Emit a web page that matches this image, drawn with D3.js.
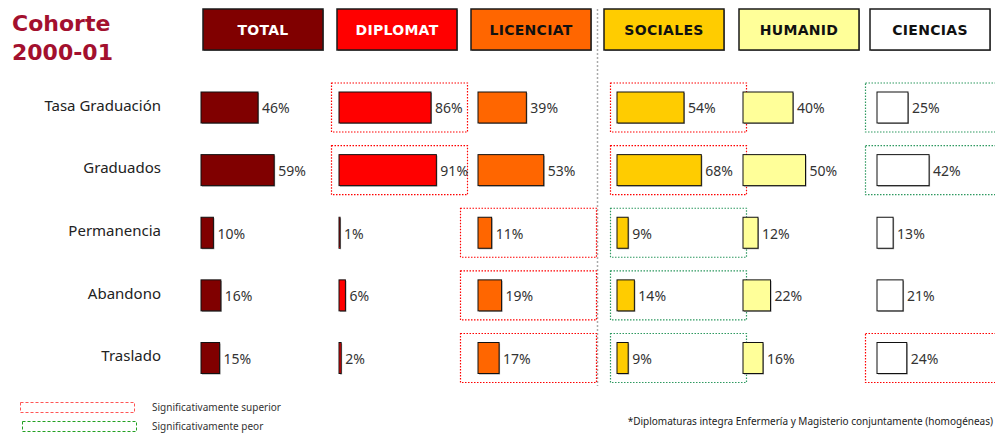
<!DOCTYPE html>
<html>
<head>
<meta charset="utf-8">
<script src="https://cdn.jsdelivr.net/npm/d3@7"></script>
<style>
  body { margin: 0; background: #fff; }
  text { font-family: "DejaVu Sans", Verdana, sans-serif; }
  .lbl { font-family: "Noto Sans", "DejaVu Sans", sans-serif; }
</style>
</head>
<body>
<div id="chart"></div>
<script>
// data
var categories = ["TOTAL", "DIPLOMAT", "LICENCIAT", "SOCIALES", "HUMANID", "CIENCIAS"];
var rows = ["Tasa Graduación", "Graduados", "Permanencia", "Abandono", "Traslado"];
var totalVals = [46, 59, 10, 16, 15];
var diplomatVals = [86, 91, 1, 6, 2];
var licenciatVals = [39, 53, 11, 19, 17];
var socialesVals = [54, 68, 9, 14, 9];
var humanidVals = [40, 50, 12, 22, 16];
var cienciasVals = [25, 42, 13, 21, 24];
// significance: "sup" = superior, "inf" = peor, null = none
var signif = [
    [null, "sup", null, "sup", null, "inf"],
    [null, "sup", null, "sup", null, "inf"],
    [null, null, "sup", "inf", null, null],
    [null, null, "sup", "inf", null, null],
    [null, null, "sup", "inf", null, "sup"]
];
var seriesVals = [totalVals, diplomatVals, licenciatVals, socialesVals, humanidVals, cienciasVals];

// layout / style
var width = 995, height = 434;
var fills = ["#800000", "#ff0000", "#ff6600", "#ffcc00", "#ffff99", "#ffffff"];
var headTextCol = ["#fff", "#fff", "#111", "#111", "#111", "#111"];
var headX = [203, 337, 471, 604, 739, 870];
var barX = [201, 339, 478, 617, 743, 877];
var barMaxW = [124, 107, 124, 124, 125, 124];   // px for 100%
var boxX = [0, 331, 460, 610, 739, 865];
var boxW = 136;
var barH = 31;
var sigCol = { sup: "#ff0000", inf: "#2e9960" };

var svg = d3.select("#chart").append("svg")
    .attr("width", width)
    .attr("height", height);

// title
svg.append("text").attr("x", 12).attr("y", 31)
    .style("font-size", "22px").style("font-weight", "bold").attr("fill", "#a3102e")
    .text("Cohorte");
svg.append("text").attr("x", 12).attr("y", 60)
    .style("font-size", "22px").style("font-weight", "bold").attr("fill", "#a3102e")
    .text("2000-01");

// divider
svg.append("line")
    .attr("x1", 597.5).attr("x2", 597.5).attr("y1", 9).attr("y2", 386)
    .attr("stroke", "#aaa").attr("stroke-width", 1.5).attr("stroke-dasharray", "2,2");

// header boxes
var head = svg.selectAll("g.head").data(categories).enter().append("g")
    .attr("class", "head")
    .attr("transform", function(d, i) { return "translate(" + headX[i] + ",9)"; });
head.append("rect").attr("x", 1).attr("y", 1).attr("width", 120).attr("height", 41).attr("fill", "#999");
head.append("rect")
    .attr("width", 120).attr("height", 41)
    .attr("fill", function(d, i) { return fills[i]; })
    .attr("stroke", "#1a1a1a").attr("stroke-width", 1.5);
head.append("text")
    .attr("x", 60).attr("y", 21).attr("dy", "0.35em")
    .attr("text-anchor", "middle")
    .style("font-size", "14px").style("font-weight", "bold").style("letter-spacing", "0.3px")
    .attr("fill", function(d, i) { return headTextCol[i]; })
    .text(function(d) { return d; });

// row scale
var yScale = d3.scalePoint().domain(rows).range([107.5, 358]);

svg.selectAll("text.row").data(rows).enter().append("text")
    .attr("class", "row lbl")
    .attr("x", 161).attr("y", function(d) { return yScale(d) - 2; })
    .attr("dy", "0.35em").attr("text-anchor", "end")
    .style("font-size", "15px").attr("fill", "#222")
    .text(function(d) { return d; });

// significance boxes
var sigData = [];
signif.forEach(function(r, ri) {
    r.forEach(function(s, ci) {
        if (s) sigData.push({ row: rows[ri], col: ci, type: s });
    });
});
svg.selectAll("rect.sig").data(sigData).enter().append("rect")
    .attr("class", "sig")
    .attr("x", function(d) { return boxX[d.col] + 0.5; })
    .attr("y", function(d) { return yScale(d.row) - 24.5; })
    .attr("width", function(d) { return Math.min(boxW, width - boxX[d.col] + 5); })
    .attr("height", 49)
    .attr("fill", "none")
    .attr("stroke", function(d) { return sigCol[d.type]; })
    .attr("stroke-width", 1.2)
    .attr("stroke-dasharray", "1.5,1.5");

// bars
categories.forEach(function(c, ci) {
    var x = d3.scaleLinear().domain([0, 100]).range([0, barMaxW[ci]]);
    var g = svg.append("g").attr("transform", "translate(" + barX[ci] + ",0)");
    var dat = rows.map(function(r, ri) { return { row: r, v: seriesVals[ci][ri] }; });

    g.selectAll("rect.shadow").data(dat).enter().append("rect")
        .attr("class", "shadow")
        .attr("x", 1).attr("y", function(d) { return yScale(d.row) - barH / 2 + 1; })
        .attr("width", function(d) { return x(d.v); }).attr("height", barH)
        .attr("fill", "#999");
    g.selectAll("rect.bar").data(dat).enter().append("rect")
        .attr("class", "bar")
        .attr("x", 0).attr("y", function(d) { return yScale(d.row) - barH / 2; })
        .attr("width", function(d) { return x(d.v); }).attr("height", barH)
        .attr("fill", fills[ci])
        .attr("stroke", "#111").attr("stroke-width", 1);
    g.selectAll("text.val").data(dat).enter().append("text")
        .attr("class", "val lbl")
        .attr("x", function(d) { return x(d.v) + 4; })
        .attr("y", function(d) { return yScale(d.row) + 1; })
        .attr("dy", "0.35em")
        .style("font-size", "14px").attr("fill", "#333")
        .text(function(d) { return d.v + "%"; });
});

// legend
var legend = [
    { label: "Significativamente superior", col: "#ff5555", y: 402 },
    { label: "Significativamente peor", col: "#22a022", y: 421 }
];
var lg = svg.selectAll("g.leg").data(legend).enter().append("g").attr("class", "leg");
lg.append("rect")
    .attr("x", function(d, i) { return 20.5 + i * 2; })
    .attr("y", function(d) { return d.y + 0.5; })
    .attr("width", 114).attr("height", 10)
    .attr("fill", "none").attr("stroke", function(d) { return d.col; })
    .attr("stroke-width", 1).attr("stroke-dasharray", "3,2");
lg.append("text")
    .attr("class", "lbl")
    .attr("x", 152).attr("y", function(d) { return d.y + 5; })
    .attr("dy", "0.35em")
    .style("font-size", "10px").attr("fill", "#333")
    .text(function(d) { return d.label; });

// footnote
svg.append("text")
    .attr("class", "lbl")
    .attr("x", 993).attr("y", 425).attr("text-anchor", "end")
    .style("font-size", "10px").attr("fill", "#222")
    .text("*Diplomaturas integra Enfermería y Magisterio conjuntamente (homogéneas)");
</script>
</body>
</html>
